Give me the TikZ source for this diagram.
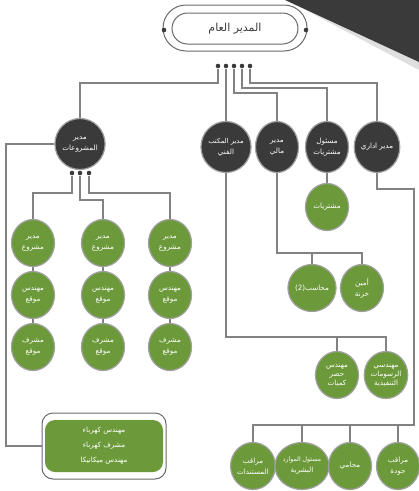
\documentclass[tikz,border=0pt]{standalone}
\usepackage{fontspec}
\usetikzlibrary{shapes.geometric}
\TeXXeTstate=1
\newfontfamily\arabicfont[Script=Arabic]{DejaVu Sans}
\newcommand{\arl}[1]{\beginR #1\endR}
\definecolor{darkc}{RGB}{58,58,58}
\definecolor{greenc}{RGB}{108,154,58}
\definecolor{linec}{RGB}{130,130,130}
\definecolor{rimc}{RGB}{160,160,160}
\definecolor{pillc}{RGB}{105,105,105}
\begin{document}
\begin{tikzpicture}[x=1pt,y=-1pt,
  dk/.style={ellipse, fill=darkc, draw=rimc, line width=1.2pt, minimum width=43pt, minimum height=51pt, inner sep=0pt, align=center, text=white, font=\arabicfont\fontsize{7.2}{11}\selectfont},
  gr/.style={ellipse, fill=greenc, draw=rimc, line width=1.2pt, minimum width=43pt, minimum height=47pt, inner sep=0pt, align=center, text=white, font=\arabicfont\fontsize{7.2}{11}\selectfont},
  dot/.style={circle, fill=darkc, inner sep=0pt, minimum size=4.6pt},
  conn/.style={draw=linec, line width=1.1pt}]
\useasboundingbox (0,0) rectangle (419,491);
% corner decoration
\fill[gray!25] (300,7) -- (419,62) -- (419,70) -- cycle;
\fill[darkc] (285,0) -- (419,0) -- (419,62) -- cycle;
% general manager
\node[draw=pillc, line width=1pt, rounded corners=23pt, minimum width=144pt, minimum height=46pt, inner sep=0pt] (gmo) at (235,28) {};
\node[draw=pillc, line width=1pt, rounded corners=15.5pt, minimum width=126pt, minimum height=31pt, inner sep=0pt, text=darkc, font=\arabicfont\fontsize{11}{13}\selectfont] (gm) at (235,28.5) {\arl{المدير العام}};
\node[dot] (gl) at (164,30) {};
\node[dot] (gr) at (306,30) {};
% five dots
\node[dot] (d1) at (218,66) {};
\node[dot] (d2) at (226,66) {};
\node[dot] (d3) at (234,66) {};
\node[dot] (d4) at (242,66) {};
\node[dot] (d5) at (250,66) {};
% managers
\node[dk] (pm) at (80,144) {\arl{مدير}\\\arl{المشروعات}};
\node[dk] (to) at (226,147) {\fontsize{6.8}{11}\selectfont\arl{مدير المكتب}\\\arl{الفني}};
\node[dk] (fm) at (277,147) {\arl{مدير}\\\arl{مالي}};
\node[dk] (pu) at (327,147) {\arl{مسئول}\\\arl{مشتريات}};
\node[dk] (ad) at (377,147) {\arl{مدير اداري}};
\draw[conn] (d1) -- (d1 |- 0,83) -| (pm.north);
\draw[conn] (d2) -- (to.north);
\draw[conn] (d3) -- (d3 |- 0,93) -| (fm.north);
\draw[conn] (d4) -- (d4 |- 0,88) -| (pu.north);
\draw[conn] (d5) -- (d5 |- 0,83) -| (ad.north);
% purchases
\node[gr] (pur) at (327,207) {\arl{مشتريات}};
\draw[conn] (pu.south) -- (pur.north);
% finance
\node[gr] (acc) at (312,288) {(2)\arl{محاسب}};
\node[gr] (tre) at (362,288) {\arl{أمين}\\\arl{خزنة}};
\draw[conn] (fm.south) |- (tre.north |- 0,253) -- (tre.north);
\draw[conn] (acc.north) -- (acc.north |- 0,253);
% technical office
\node[gr] (qs) at (337,375) {\arl{مهندس}\\[-2pt]\arl{حصر}\\[-2pt]\arl{كميات}};
\node[gr] (sd) at (386,375) {\arl{مهندسي}\\[-2pt]\arl{الرسومات}\\[-2pt]\arl{التنفيذية}};
\draw[conn] (to.south) |- (sd.north |- 0,337) -- (sd.north);
\draw[conn] (qs.north) -- (qs.north |- 0,337);
% admin
\node[gr] (doc) at (253,466) {\arl{مراقب}\\\arl{المستندات}};
\node[gr] (hr) at (302,466) {\fontsize{6.2}{11}\selectfont\arl{مسئول الموارد}\\\arl{البشرية}};
\node[gr] (law) at (350,466) {\arl{محامي}};
\node[gr] (qc) at (398,466) {\arl{مراقب}\\\arl{جودة}};
\draw[conn] (ad.south) |- (414,189) |- (doc.north |- 0,425) -- (doc.north);
\draw[conn] (hr.north) -- (hr.north |- 0,425);
\draw[conn] (law.north) -- (law.north |- 0,425);
\draw[conn] (qc.north) -- (qc.north |- 0,425);
% project dots
\node[dot] (p1) at (72,173) {};
\node[dot] (p2) at (80,173) {};
\node[dot] (p3) at (89,173) {};
% project columns
\foreach \c/\x in {a/33,b/103,c/170}{
  \node[gr] (\c1) at (\x,243) {\arl{مدير}\\\arl{مشروع}};
  \node[gr] (\c2) at (\x,295) {\arl{مهندس}\\\arl{موقع}};
  \node[gr] (\c3) at (\x,347) {\arl{مشرف}\\\arl{موقع}};
  \draw[conn] (\c1.south) -- (\c2.north);
  \draw[conn] (\c2.south) -- (\c3.north);
}
\draw[conn] (p1) -- (p1 |- 0,193) -| (a1.north);
\draw[conn] (p2) -- (p2 |- 0,200) -| (b1.north);
\draw[conn] (p3) -- (p3 |- 0,193) -| (c1.north);
% box
\node[draw=pillc, line width=1pt, fill=white, rounded corners=11pt, minimum width=124pt, minimum height=66pt, inner sep=0pt] (boxo) at (104,446) {};
\node[fill=greenc, rounded corners=10pt, minimum width=118pt, minimum height=52pt, inner sep=0pt, align=center, text=white, font=\arabicfont\fontsize{7.2}{15}\selectfont] (box) at (104,446) {\arl{مهندس كهرباء}\\\arl{مشرف كهرباء}\\\arl{مهندس ميكانيكا}};
\draw[conn] (pm.west) -- (6,144) |- (boxo.west);
\end{tikzpicture}
\end{document}
